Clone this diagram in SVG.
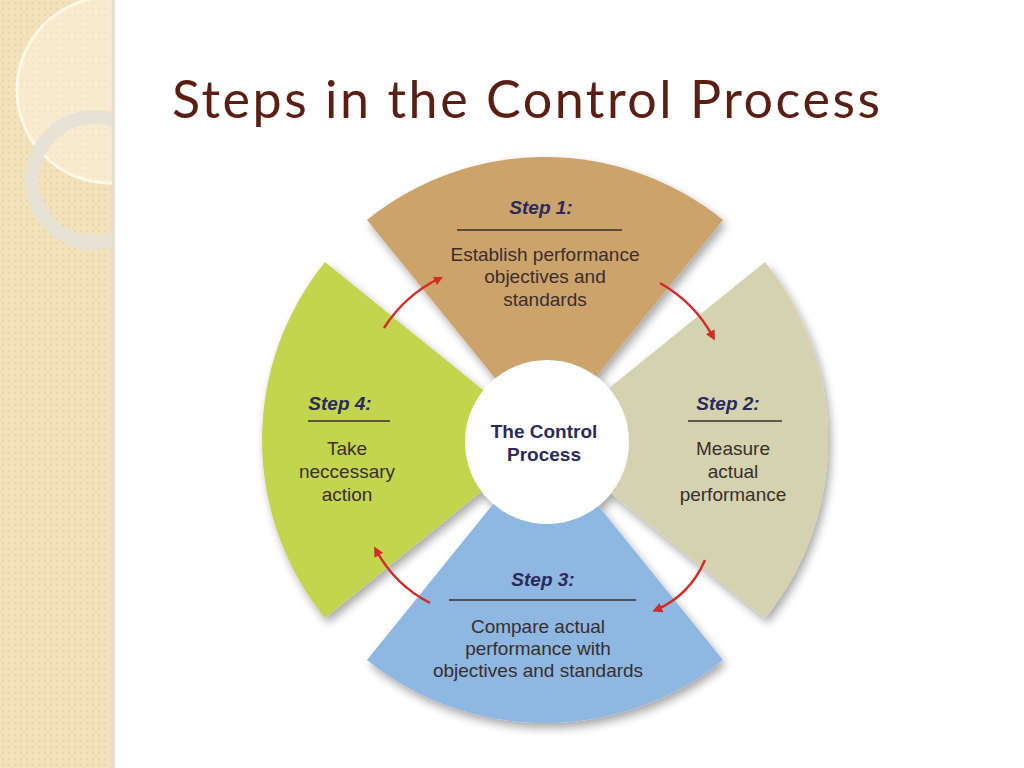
<svg xmlns="http://www.w3.org/2000/svg" width="1024" height="768" viewBox="0 0 1024 768">
<defs>
<filter id="sh" x="-20%" y="-20%" width="140%" height="140%"><feGaussianBlur in="SourceAlpha" stdDeviation="5"/><feOffset dx="3" dy="5"/><feComponentTransfer><feFuncA type="linear" slope="0.35"/></feComponentTransfer><feMerge><feMergeNode/><feMergeNode in="SourceGraphic"/></feMerge></filter>
<marker id="ah" viewBox="0 0 10 10" refX="6" refY="5" markerWidth="4" markerHeight="4" orient="auto"><path d="M0,0 L10,5 L0,10 z" fill="#D42A2A"/></marker>
<pattern id="dots" width="6" height="6" patternUnits="userSpaceOnUse"><rect width="6" height="6" fill="#F4E2BC"/><circle cx="3" cy="3" r="1.2" fill="#EDD6A8"/></pattern>
<clipPath id="strip"><rect x="0" y="0" width="112" height="768"/></clipPath>
</defs>
<style>
.step{font-family:"Liberation Sans Narrow","Liberation Sans",Arial,sans-serif;font-weight:bold;font-style:italic;font-size:19px;fill:#2B2A5A;text-anchor:middle}
.body{font-family:"Liberation Sans Narrow","Liberation Sans",Arial,sans-serif;font-size:19px;fill:#3A2E2A;text-anchor:middle}
.rule{stroke:#3A2E2A;stroke-width:1.5}
.arr{fill:none;stroke:#D42A2A;stroke-width:2.5;marker-end:url(#ah)}
</style>
<rect width="1024" height="768" fill="#FFFFFF"/>
<rect x="0" y="0" width="113" height="768" fill="url(#dots)"/>
<rect x="110" y="0" width="5" height="768" fill="#E6DDCB"/>
<g clip-path="url(#strip)">
<circle cx="110" cy="90" r="93" fill="#FBF3E0" fill-opacity="0.5" stroke="#FFF8E6" stroke-width="3"/>
<circle cx="95" cy="180" r="63" fill="none" stroke="#E7E2D6" stroke-width="14"/>
</g>
<text x="172" y="118" textLength="708" font-family="Lato,'Open Sans',sans-serif" font-size="52" fill="#5A1E12">Steps in the Control Process</text>
<g filter="url(#sh)">
<g id="step1"><path d="M545,440 L367,220 A283,283 0 0 1 723,220 Z" fill="#CDA36C"/></g>
<g id="step2"><path d="M545,440 L765,262 A283,283 0 0 1 765,618 Z" fill="#D5D2B0"/></g>
<g id="step3"><path d="M545,440 L723,660 A283,283 0 0 1 367,660 Z" fill="#8EB7E2"/></g>
<g id="step4"><path d="M545,440 L325,618 A283,283 0 0 1 325,262 Z" fill="#C3D54F"/></g>
<g id="center"><circle cx="547" cy="442" r="82" fill="#FFFFFF"/></g>
</g>
<text class="step" x="541" y="214">Step 1:</text><line class="rule" x1="457" y1="230" x2="622" y2="230"/>
<text class="body" x="545" y="261">Establish performance</text><text class="body" x="545" y="283">objectives and</text><text class="body" x="545" y="306">standards</text>
<text class="step" x="728" y="410">Step 2:</text><line class="rule" x1="688" y1="421" x2="782" y2="421"/>
<text class="body" x="733" y="455">Measure</text><text class="body" x="733" y="478">actual</text><text class="body" x="733" y="501">performance</text>
<text class="step" x="543" y="586">Step 3:</text><line class="rule" x1="449" y1="600" x2="636" y2="600"/>
<text class="body" x="538" y="633">Compare actual</text><text class="body" x="538" y="655">performance with</text><text class="body" x="538" y="677">objectives and standards</text>
<text class="step" x="340" y="410">Step 4:</text><line class="rule" x1="308" y1="421" x2="390" y2="421"/>
<text class="body" x="347" y="455">Take</text><text class="body" x="347" y="478">neccessary</text><text class="body" x="347" y="501">action</text>
<text class="step" style="font-style:normal" x="544" y="438">The Control</text><text class="step" style="font-style:normal" x="544" y="461">Process</text>
<g id="connectors">
<path class="arr" d="M384,328 Q405,295 440,278"/>
<path class="arr" d="M660,283 Q695,303 713,337"/>
<path class="arr" d="M705,560 Q690,595 656,610"/>
<path class="arr" d="M430,603 Q395,585 376,550"/>
</g>
</svg>
